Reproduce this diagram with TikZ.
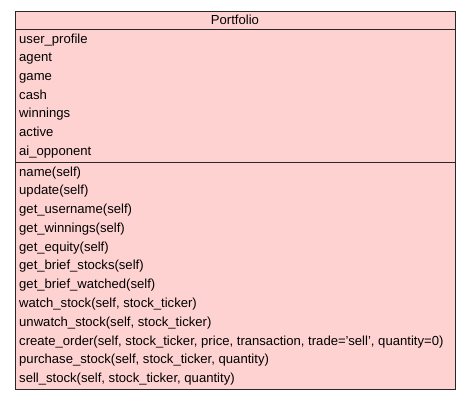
\documentclass[tikz,border=0pt]{standalone}
\usepackage{fontspec}
\setmainfont{Liberation Sans}
\usepackage{tikz}
\definecolor{classpink}{RGB}{255,210,210}
\definecolor{classline}{RGB}{40,40,40}

\begin{document}
\begin{tikzpicture}[x=1pt, y=-1pt, every node/.style={font=\fontsize{13.1}{15}\selectfont, inner sep=0pt}]
	\useasboundingbox (0,0) rectangle (469,400);
	\draw[classline, fill=classpink, line width=0.9pt] (15,11) rectangle (455,389);
	\draw[classline, line width=0.9pt] (15,29) -- (455,29);
	\draw[classline, line width=0.9pt] (15,162) -- (455,162);
	\node[anchor=base] (title) at (235,24) {Portfolio};
	% attributes
	\node[anchor=base west] (userprofile) at (19,43.2) {user\_profile};
	\node[anchor=base west] (agent) at (19,61.9) {agent};
	\node[anchor=base west] (game) at (19,80.5) {game};
	\node[anchor=base west] (cash) at (19,99.2) {cash};
	\node[anchor=base west] (winnings) at (19,117.9) {winnings};
	\node[anchor=base west] (active) at (19,136.5) {active};
	\node[anchor=base west] (aiopponent) at (19,155.2) {ai\_opponent};
	% methods
	\node[anchor=base west] (name) at (19,176) {name(self)};
	\node[anchor=base west] (update) at (19,194.8) {update(self)};
	\node[anchor=base west] (getusername) at (19,213.6) {get\_username(self)};
	\node[anchor=base west] (getwinnings) at (19,232.3) {get\_winnings(self)};
	\node[anchor=base west] (getequity) at (19,251.1) {get\_equity(self)};
	\node[anchor=base west] (getbriefstocks) at (19,269.9) {get\_brief\_stocks(self)};
	\node[anchor=base west] (getbriefwatched) at (19,288.7) {get\_brief\_watched(self)};
	\node[anchor=base west] (watchstock) at (19,307.5) {watch\_stock(self, stock\_ticker)};
	\node[anchor=base west] (unwatchstock) at (19,326.2) {unwatch\_stock(self, stock\_ticker)};
	\node[anchor=base west] (createorder) at (19,345) {create\_order(self, stock\_ticker, price, transaction, trade='sell', quantity=0)};
	\node[anchor=base west] (purchasestock) at (19,363.8) {purchase\_stock(self, stock\_ticker, quantity)};
	\node[anchor=base west] (sellstock) at (19,382.6) {sell\_stock(self, stock\_ticker, quantity)};
\end{tikzpicture}
\end{document}
